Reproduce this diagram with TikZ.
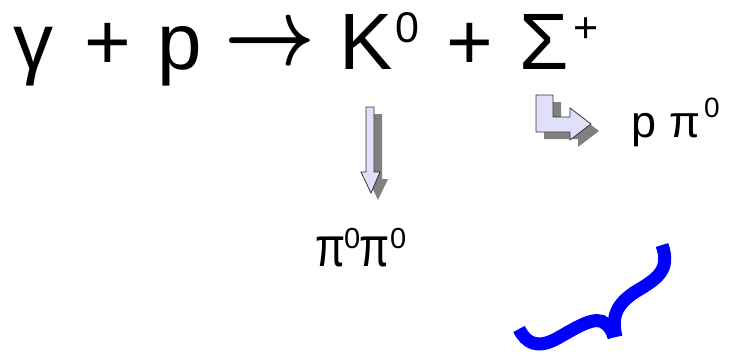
\documentclass[tikz,border=0pt]{standalone}
\usepackage{fontspec}
\setmainfont{Liberation Sans}
\definecolor{arrfill}{RGB}{224,224,250}
\definecolor{arrshadow}{RGB}{128,128,128}
\definecolor{braceblue}{RGB}{0,0,255}
\begin{document}
\begin{tikzpicture}[x=1pt,y=-1pt,
  txt/.style={inner sep=0pt, anchor=base west},
  big/.style={txt, font=\fontsize{80}{96}\selectfont},
  bigsup/.style={txt, font=\fontsize{43}{52}\selectfont},
  mid/.style={txt, xscale=0.78, font=\fontsize{56}{67}\selectfont},
  midsup/.style={txt, font=\fontsize{29}{35}\selectfont},
  sml/.style={txt, font=\fontsize{45}{54}\selectfont},
  smlsup/.style={txt, font=\fontsize{28}{34}\selectfont},
  blockarrow/.style={fill=arrfill, draw=black!80, line width=0.8pt, line join=miter},
  blockshadow/.style={fill=arrshadow, draw=none},
  bracestroke/.style={draw=braceblue, line width=13pt, line cap=butt}]
\useasboundingbox (0,0) rectangle (744,356);
% equation
\node[big] (g) at (13,69) {γ};
\node[big] (pl1) at (84,69) {+};
\node[big] (p1) at (157,69) {p};
\node[inner sep=0pt, xscale=7.9, yscale=9.5, font=\mathversion{bold}] (arr) at (269.5,46) {$\rightarrow$};
\node[big] (K) at (339,69) {K};
\node[bigsup] (K0) at (395,42) {0};
\node[big] (pl2) at (446,69) {+};
\node[big] (S) at (519,69) {Σ};
\node[bigsup] (Sp) at (573,42) {+};
% down arrow
\fill[blockshadow] (374,114) -- (382,114) -- (382,179) -- (388,179) -- (378,200) -- (368,179) -- (374,179) -- cycle;
\path[blockarrow] (366,107) -- (374,107) -- (374,172) -- (380,172) -- (371,193) -- (361,172) -- (366,172) -- cycle;
\node[mid] (pi1) at (315,266) {π};
\node[midsup] (pi1s) at (344,248) {0};
\node[mid] (pi2) at (359.5,266) {π};
\node[midsup] (pi2s) at (390,248) {0};
% bent arrow
\fill[blockshadow] (544,102) -- (561,102) -- (561,124) -- (578,124) -- (578,115) -- (599,131) -- (578,147) -- (578,139) -- (544,139) -- cycle;
\path[blockarrow] (536,95) -- (553,95) -- (553,117) -- (570,117) -- (570,108) -- (591,124) -- (570,140) -- (570,132) -- (536,132) -- cycle;
\node[sml] (p2) at (631,137) {p};
\node[sml] (pi3) at (669,137) {π};
\node[smlsup] (pi3s) at (704,117) {0};
% brace
\draw[bracestroke] (519,329) .. controls (526,343) and (537,349) .. (556,339)
  .. controls (576,328) and (596,314) .. (606,324) .. controls (611,329) .. (614,337);
\draw[bracestroke] (616,337) .. controls (611,316) and (617,304) .. (635,292)
  .. controls (657,279) and (671,270) .. (662,245);
\end{tikzpicture}
\end{document}
